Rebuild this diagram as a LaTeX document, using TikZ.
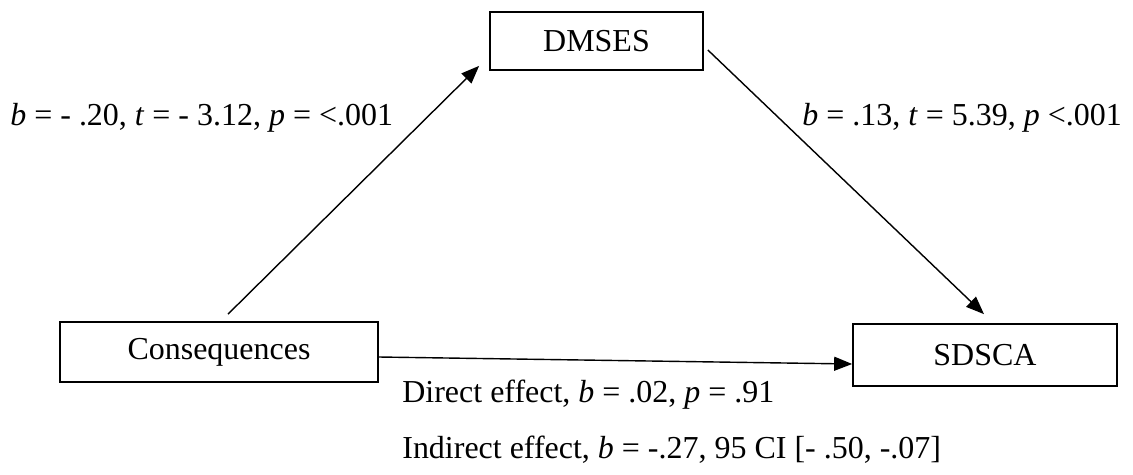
\documentclass[tikz,border=0pt]{standalone}
\usepackage{fontspec}
\setmainfont{Liberation Serif}
\usepackage{tikz}
\usetikzlibrary{calc,arrows.meta,positioning}
\tikzset{
  box/.style={draw,line width=1pt,inner sep=0pt,align=center},
  ar/.style={-{Triangle[length=3.6mm,width=2.8mm]},line width=0.8pt},
  lbl/.style={anchor=base west,inner sep=0pt}
}
\begin{document}
\begin{tikzpicture}[x=0.02cm,y=-0.02cm,font=\fontsize{18.2}{21}\selectfont]
\useasboundingbox (0,0) rectangle (1133,474);
\node[box,minimum width=4.26cm,minimum height=1.16cm] (dmses) at (596.5,41) {DMSES};
\node[box,minimum width=6.36cm,minimum height=1.2cm] (cons) at (219,352) {Consequences};
\node[box,minimum width=5.28cm,minimum height=1.24cm] (sdsca) at (985,355) {SDSCA};
\draw[ar] ($(cons.north)+(9,-7)$) -- ($(dmses.south west)+(-10,-5)$);
\draw[ar] ($(dmses.east)+(4,9)$) -- ($(sdsca.north)+(-1,-9)$);
\draw[ar] ($(cons.east)+(0,5)$) -- ($(sdsca.west)+(0,9)$);
\node[lbl] (la) at (10,125) {\textit{b} = - .20, \textit{t} = - 3.12, \textit{p} = <.001};
\node[lbl] (lb) at (802,125) {\textit{b} = .13, \textit{t} = 5.39, \textit{p} <.001};
\node[lbl] (lc) at (402,402) {Direct effect, \textit{b} = .02, \textit{p} = .91};
\node[lbl] (ld) at (402,458) {Indirect effect, \textit{b} = -.27, 95 CI [- .50, -.07]};
\end{tikzpicture}
\end{document}
